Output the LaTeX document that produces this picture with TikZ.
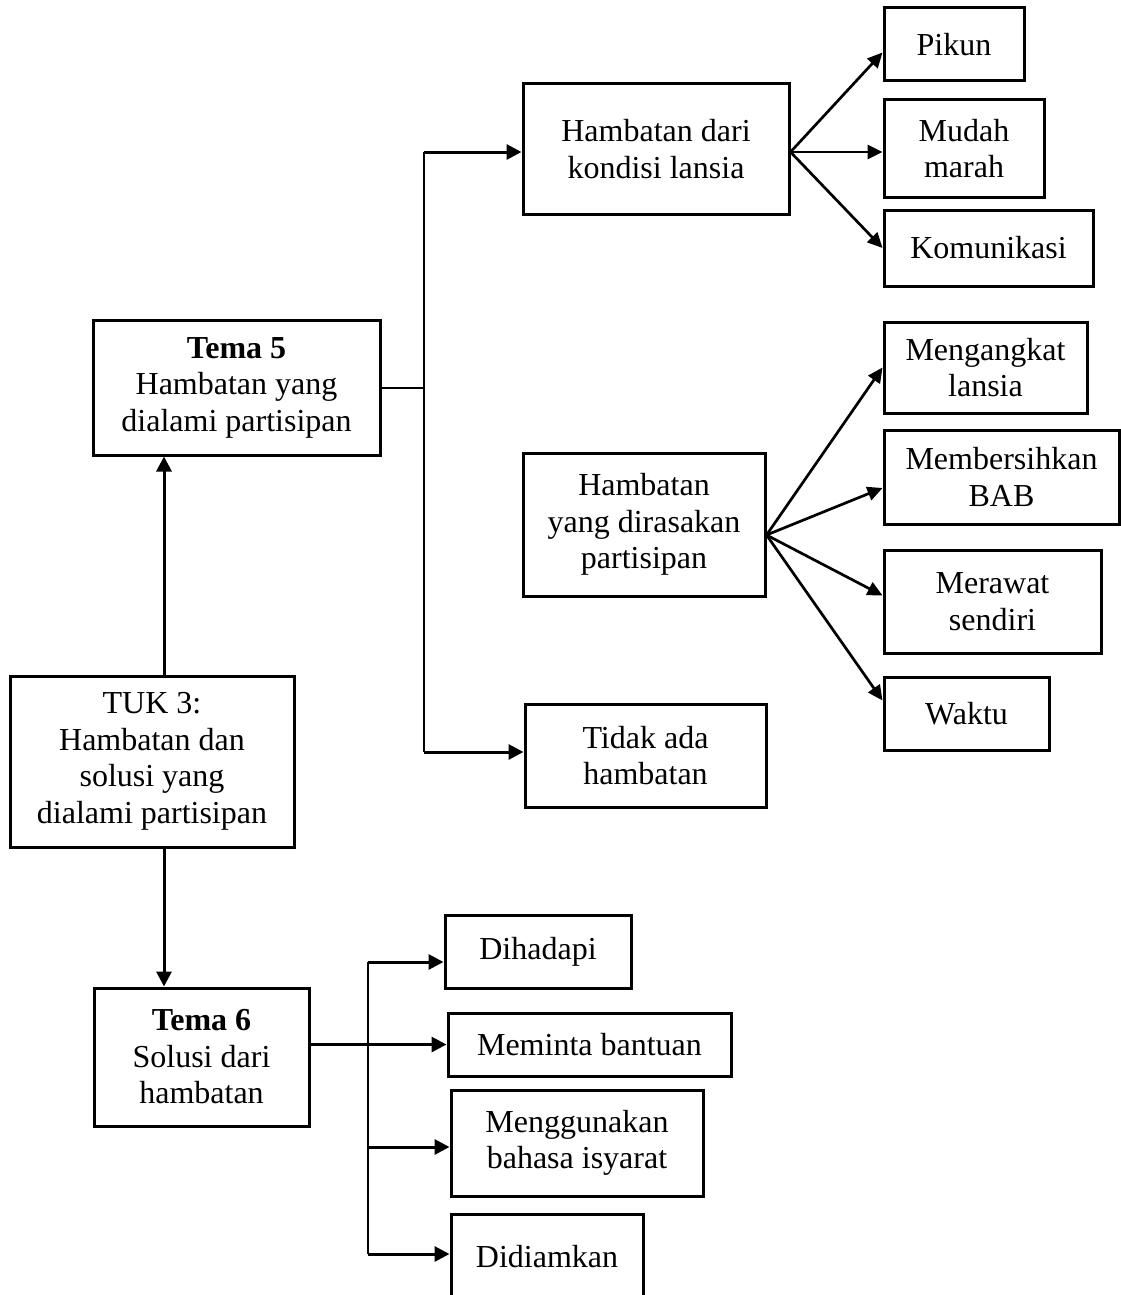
\documentclass[tikz,border=0pt]{standalone}
\usepackage{fontspec}
\setmainfont{Liberation Serif}
\usetikzlibrary{arrows.meta}
\begin{document}
\begin{tikzpicture}[x=1pt,y=-1pt,
  box/.style={draw, line width=3pt, rectangle, inner sep=0pt, align=center,
              font=\fontsize{32}{36.5}\selectfont},
  arr/.style={line width=3pt, -{Triangle[length=15pt,width=15pt]}},
  fan/.style={line width=2.7pt, -{Triangle[length=15pt,width=14pt]}},
  thinline/.style={line width=1.7pt}]
\useasboundingbox (0,0) rectangle (1121,1295);
\clip (0,0) rectangle (1121,1295);

% --- Tema 5 branch ---
\node[box, minimum width=287pt, minimum height=135pt] (tema5) at (236.5,387.5)
  {\textbf{Tema 5}\\Hambatan yang\\dialami partisipan};
\node[box, minimum width=266pt, minimum height=130pt] (kondisi) at (656,149)
  {Hambatan dari\\kondisi lansia};
\node[box, minimum width=242pt, minimum height=143pt] (dirasa) at (644,524.5)
  {Hambatan\\yang dirasakan\\partisipan};
\node[box, minimum width=241pt, minimum height=103pt] (tidak) at (645.5,755.5)
  {Tidak ada\\hambatan};

\node[box, minimum width=140pt, minimum height=73pt] (pikun) at (954,44.5) {Pikun};
\node[box, minimum width=160pt, minimum height=97pt] (mudah) at (964,148.5) {Mudah\\marah};
\node[box, minimum width=209pt, minimum height=76pt] (komun) at (988.5,248) {Komunikasi};

\node[box, minimum width=203pt, minimum height=91pt] (angkat) at (985.5,367.5) {Mengangkat\\lansia};
\node[box, minimum width=235pt, minimum height=94pt] (bersih) at (1001.5,477) {Membersihkan\\BAB};
\node[box, minimum width=217pt, minimum height=103pt] (rawat) at (992.5,601.5) {Merawat\\sendiri};
\node[box, minimum width=165pt, minimum height=73pt] (waktu) at (966.5,713.5) {Waktu};

% --- central node ---
\node[box, minimum width=284pt, minimum height=171pt] (tuk) at (152,761.5)
  {TUK 3:\\Hambatan dan\\solusi yang\\dialami partisipan};

% --- Tema 6 branch ---
\node[box, minimum width=215pt, minimum height=138pt] (tema6) at (201.5,1057)
  {\textbf{Tema 6}\\Solusi dari\\hambatan};
\node[box, minimum width=186pt, minimum height=73pt] (hadapi) at (538,951.5) {Dihadapi};
\node[box, minimum width=283pt, minimum height=63pt] (minta) at (589.5,1044.5) {Meminta bantuan};
\node[box, minimum width=252pt, minimum height=106pt] (guna) at (577,1143) {Menggunakan\\bahasa isyarat};
\node[box, minimum width=192pt, minimum height=86pt] (diam) at (547,1257) {Didiamkan};

% TUK 3 up and down
\draw[arr] ([xshift=12pt]tuk.north) -- ([xshift=12pt]tuk.north |- tema5.south);
\draw[arr] ([xshift=12pt]tuk.south) -- ([xshift=12pt]tuk.south |- tema6.north);

% Tema 5 bracket
\coordinate (jtop) at (424,152);
\coordinate (jmid) at (424,388);
\coordinate (jbot) at (424,752);
\draw[thinline] (tema5.east |- jmid) -- (jmid);
\draw[thinline] (jtop) -- (jbot);
\draw[arr] (jtop) -- (jtop -| kondisi.west);
\draw[arr] (jbot) -- (jbot -| tidak.west);

% fan from the condition box
\coordinate (fk) at (kondisi.east |- jtop);
\draw[fan] (fk) -- ([yshift=-8pt]pikun.west);
\draw[fan] (fk) -- ([yshift=-3.5pt]mudah.west);
\draw[fan] (fk) -- (komun.west);

% fan from the felt-obstacles box
\coordinate (fd) at ([yshift=-10.5pt]dirasa.east);
\draw[fan] (fd) -- (angkat.west);
\draw[fan] (fd) -- ([yshift=-11pt]bersih.west);
\draw[fan] (fd) -- ([yshift=6pt]rawat.west);
\draw[fan] (fd) -- ([yshift=13pt]waktu.west);

% Tema 6 bracket
\coordinate (sTop) at (368,962);
\coordinate (sG) at (368,1147);
\coordinate (sBot) at (368,1254);
\draw[line width=2pt] (sTop) -- (sBot);
\draw[arr] (sTop) -- (sTop -| hadapi.west);
\draw[arr] (tema6.east |- minta.west) -- (minta.west);
\draw[arr] (sG) -- (sG -| guna.west);
\draw[arr] (sBot) -- (sBot -| diam.west);
\end{tikzpicture}
\end{document}
